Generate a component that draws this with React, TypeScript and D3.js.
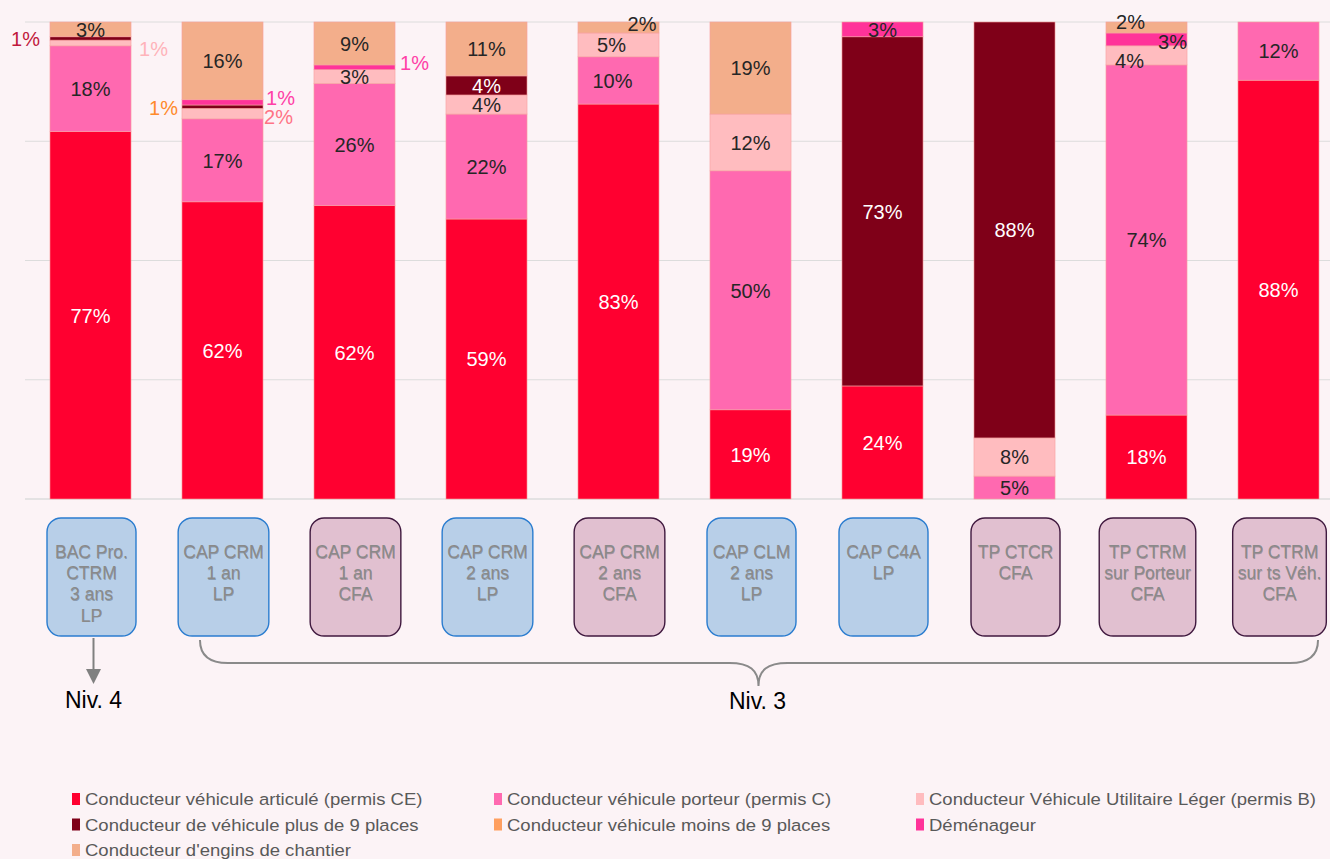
import React from "react";
import * as d3 from "d3";

// ---------- DATA ----------
const categories: string[][] = [
  ["BAC Pro.", "CTRM", "3 ans", "LP"],
  ["CAP CRM", "1 an", "LP"],
  ["CAP CRM", "1 an", "CFA"],
  ["CAP CRM", "2 ans", "LP"],
  ["CAP CRM", "2 ans", "CFA"],
  ["CAP CLM", "2 ans", "LP"],
  ["CAP C4A", "LP"],
  ["TP CTCR", "CFA"],
  ["TP CTRM", "sur Porteur", "CFA"],
  ["TP CTRM", "sur ts Véh.", "CFA"],
];
const schoolType = ["LP", "LP", "CFA", "LP", "CFA", "LP", "LP", "CFA", "CFA", "CFA"];

const seriesKeys = ["ce", "porteur", "vul", "plus9", "moins9", "dem", "engins"];
const seriesNames = [
  "Conducteur véhicule articulé (permis CE)",
  "Conducteur véhicule porteur (permis C)",
  "Conducteur Véhicule Utilitaire Léger (permis B)",
  "Conducteur de véhicule plus de 9 places",
  "Conducteur véhicule moins de 9 places",
  "Déménageur",
  "Conducteur d'engins de chantier",
];

const ceValues = [77, 62.3, 61.5, 58.7, 82.8, 18.7, 23.7, 0, 17.6, 87.8];
const porteurValues = [18, 17.4, 25.6, 22, 9.9, 50.1, 0, 4.8, 73.4, 12.2];
const vulValues = [1.2, 2.2, 2.9, 4, 5, 11.9, 0, 8, 4, 0];
const plus9Values = [0.7, 0.7, 0, 4, 0, 0, 73.2, 87.2, 0, 0];
const moins9Values = [0, 0, 0, 0, 0, 0, 0, 0, 0, 0];
const demValues = [0, 1.1, 1, 0, 0, 0, 3.1, 0, 2.7, 0];
const enginsValues = [3.1, 16.3, 9, 11.3, 2.3, 19.3, 0, 0, 2.3, 0];

const ceLabels = [77, 62, 62, 59, 83, 19, 24, null, 18, 88];
const porteurLabels = [18, 17, 26, 22, 10, 50, null, 5, 74, 12];
const vulLabels = [1, 2, 3, 4, 5, 12, null, 8, 4, null];
const plus9Labels = [1, null, null, 4, null, null, 73, 88, null, null];
const moins9Labels = [null, 1, null, null, null, null, null, null, null, null];
const demLabels = [null, 1, 1, null, null, null, 3, null, 3, null];
const enginsLabels = [3, 16, 9, 11, 2, 19, null, null, 2, null];

const levelLabels = ["Niv. 4", "Niv. 3"];
const yTicks = [0, 25, 50, 75, 100];

// ---------- STYLE / LAYOUT ----------
const colors: Record<string, string> = {
  ce: "#ff0030",
  porteur: "#ff69b0",
  vul: "#ffbcbf",
  plus9: "#7f0018",
  moins9: "#ff9f5f",
  dem: "#ff3399",
  engins: "#f3ae8b",
};
const darkText = new Set(["porteur", "vul", "moins9", "dem", "engins"]);

const labelPlacement: Record<string, { side?: "left" | "right"; dx?: number; dy?: number; color?: string }> = {
  "plus9-0": { side: "left", dx: -10, dy: 0, color: "#c0183c" },
  "vul-0": { side: "right", dx: 8, dy: 6, color: "#ffb3ba" },
  "moins9-1": { side: "left", dx: -4, dy: 2.5, color: "#ff8a2b" },
  "dem-1": { side: "right", dx: 3, dy: -5, color: "#ff40a6" },
  "vul-1": { side: "right", dx: 1, dy: 3, color: "#ff7385" },
  "dem-2": { side: "right", dx: 5, dy: -5, color: "#ff40a6" },
  "engins-4": { dx: 23.5, dy: -3.5 },
  "vul-4": { dx: -7 },
  "porteur-4": { dx: -6 },
  "engins-8": { dx: -16, dy: -5.5 },
  "dem-8": { dx: 26, dy: 2 },
  "vul-8": { dx: -17, dy: 5 },
};

const W = 1330;
const H = 859;
const FONT = "'Liberation Sans', Arial, sans-serif";

export default function App() {
  React.useEffect(() => {
    document.body.style.margin = "0";
  }, []);

  const valuesBySeries: Record<string, number[]> = {
    ce: ceValues,
    porteur: porteurValues,
    vul: vulValues,
    plus9: plus9Values,
    moins9: moins9Values,
    dem: demValues,
    engins: enginsValues,
  };
  const labelsBySeries: Record<string, (number | null)[]> = {
    ce: ceLabels,
    porteur: porteurLabels,
    vul: vulLabels,
    plus9: plus9Labels,
    moins9: moins9Labels,
    dem: demLabels,
    engins: enginsLabels,
  };

  const rows = categories.map((c, i) => {
    const r: any = { idx: i };
    seriesKeys.forEach((k) => (r[k] = valuesBySeries[k][i]));
    return r;
  });
  const stacked = d3.stack<any>().keys(seriesKeys)(rows);

  const x = d3
    .scaleBand<number>()
    .domain(categories.map((_, i) => i))
    .range([24.5, 1344.5])
    .paddingInner(0.386)
    .paddingOuter(0.193);
  const bw = x.bandwidth();
  const y = d3.scaleLinear().domain([0, 100]).range([499, 22]);

  const measure = (() => {
    const cv = document.createElement("canvas");
    const ctx = cv.getContext("2d")!;
    ctx.font = `17.5px ${FONT}`;
    return (s: string) => ctx.measureText(s).width;
  })();

  const cx = (i: number) => (x(i) as number) + bw / 2;

  // bracket
  const bLeft = (x(1) as number) + 18;
  const bRight = (x(9) as number) + bw - 1;
  const bMid = cx(5) + 8;
  const bTop = 640;
  const bY = 663;
  const bTip = 686;
  const bracket = d3.path();
  bracket.moveTo(bLeft, bTop);
  bracket.bezierCurveTo(bLeft, bY - 7, bLeft + 10, bY, bLeft + 28, bY);
  bracket.lineTo(bMid - 29, bY);
  bracket.bezierCurveTo(bMid - 9, bY, bMid, bY + 7, bMid, bTip);
  bracket.bezierCurveTo(bMid, bY + 7, bMid + 9, bY, bMid + 29, bY);
  bracket.lineTo(bRight - 28, bY);
  bracket.bezierCurveTo(bRight - 10, bY, bRight, bY - 7, bRight, bTop);

  const arrowX = cx(0) + 3;

  return (
    <svg width={W} height={H} style={{ display: "block", position: "absolute", left: 0, top: 0 }} fontFamily={FONT}>
      <rect x={0} y={0} width={W} height={H} fill="#fcf3f6" />
      {/* gridlines */}
      {yTicks.map((t) => (
        <line key={t} x1={25} x2={W} y1={y(t)} y2={y(t)} stroke="#dcdcdc" strokeWidth={t === 0 ? 1.5 : 1} />
      ))}
      {/* bars */}
      {stacked.map((s) => (
        <g key={s.key}>
          {s.map((d, i) =>
            d[1] - d[0] > 0 ? (
              <rect
                key={i}
                x={x(i)}
                y={y(d[1])}
                width={bw}
                height={y(d[0]) - y(d[1])}
                fill={colors[s.key]}
                stroke="#f7a0a0"
                strokeWidth={0.6}
              />
            ) : null
          )}
        </g>
      ))}
      {/* data labels */}
      {stacked.map((s) => (
        <g key={"l" + s.key} fontSize={20}>
          {s.map((d, i) => {
            const lab = labelsBySeries[s.key][i];
            if (lab == null) return null;
            const p = labelPlacement[`${s.key}-${i}`] || {};
            const segC = (y(d[0]) + y(d[1])) / 2 + (p.dy || 0);
            let tx = cx(i) + (p.dx || 0);
            let anchor: "middle" | "start" | "end" = "middle";
            if (p.side === "left") {
              tx = (x(i) as number) + (p.dx || 0);
              anchor = "end";
            } else if (p.side === "right") {
              tx = (x(i) as number) + bw + (p.dx || 0);
              anchor = "start";
            }
            const fill = p.color || (darkText.has(s.key) ? "#262626" : "#ffffff");
            return (
              <text key={i} x={tx} y={segC} dy="0.36em" textAnchor={anchor} fill={fill}>
                {lab}%
              </text>
            );
          })}
        </g>
      ))}
      {/* category boxes */}
      {categories.map((lines, i) => {
        const tw = Math.max(...lines.map(measure));
        const w = Math.max(89, tw + 10);
        const isLP = schoolType[i] === "LP";
        return (
          <g key={"b" + i}>
            <rect
              x={cx(i) + 1 - w / 2}
              y={518}
              width={w}
              height={118}
              rx={14}
              ry={14}
              fill={isLP ? "#b8cfe8" : "#e1c0d0"}
              stroke={isLP ? "#2a7ccf" : "#40193f"}
              strokeWidth={1.4}
            />
            {lines.map((ln, j) => (
              <text
                key={j}
                x={cx(i) + 1}
                y={558 + j * 21.2}
                textAnchor="middle"
                fontSize={17.5}
                fill="#8a8a8a"
                style={{ textShadow: "0.5px 0.5px 0.5px rgba(0,0,0,0.25)" }}
              >
                {ln}
              </text>
            ))}
          </g>
        );
      })}
      {/* Niv. 4 arrow */}
      <line x1={arrowX} x2={arrowX} y1={638} y2={670} stroke="#808080" strokeWidth={2} />
      <path d={`M${arrowX - 7.5},${669} L${arrowX + 7.5},${669} L${arrowX},${684} Z`} fill="#808080" />
      <text x={arrowX} y={708} textAnchor="middle" fontSize={23} fill="#000">
        {levelLabels[0]}
      </text>
      {/* Niv. 3 bracket */}
      <path d={bracket.toString()} fill="none" stroke="#8a8a8a" strokeWidth={2} />
      <text x={bMid - 1} y={709} textAnchor="middle" fontSize={23} fill="#000">
        {levelLabels[1]}
      </text>
      {/* legend */}
      {seriesNames.map((name, k) => {
        const col = k % 3;
        const row = Math.floor(k / 3);
        const mx = [72, 494, 916][col];
        const by = 805 + row * 25.5;
        return (
          <g key={"lg" + k}>
            <rect x={mx} y={by - 12} width={8} height={12} fill={colors[seriesKeys[k]]} />
            <text
              x={0}
              y={0}
              fontSize={17}
              fill="#595959"
              transform={`translate(${mx + 13},${by}) scale(1.09,1)`}
            >
              {name}
            </text>
          </g>
        );
      })}
    </svg>
  );
}
